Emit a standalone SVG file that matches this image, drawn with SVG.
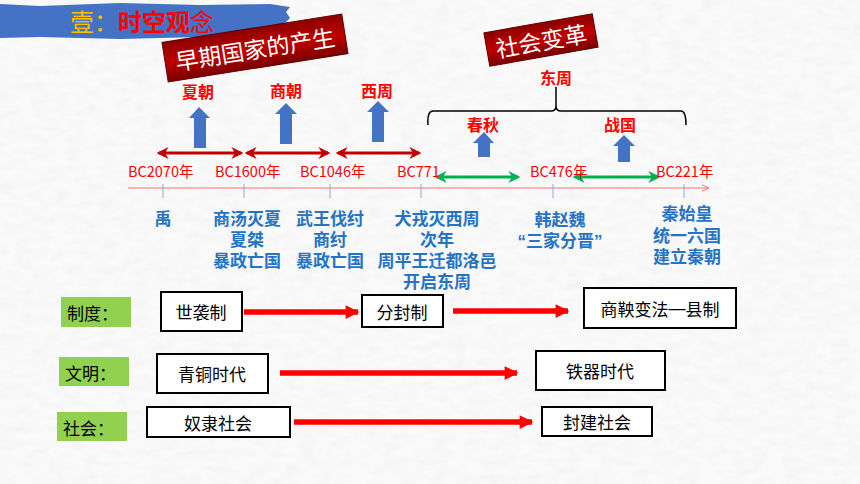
<svg xmlns="http://www.w3.org/2000/svg" width="860" height="484" viewBox="0 0 860 484">
<defs>
<style>
.cjk{font-family:"Noto Sans CJK SC","Noto Sans",sans-serif}
.per{font-family:"Noto Sans CJK SC",sans-serif;font-size:16px;font-weight:bold;fill:#FF0000;text-anchor:middle;dominant-baseline:central}
.bc{font-family:"Noto Sans CJK SC",sans-serif;font-size:14.5px;fill:#FF0000;dominant-baseline:central}
.ev{font-family:"Liberation Sans","Noto Sans CJK SC",sans-serif;font-size:17px;font-weight:bold;fill:#2473C5;text-anchor:middle;dominant-baseline:central}
.box{fill:#FFFFFF;stroke:#000;stroke-width:2}
.bt{font-family:"Noto Sans CJK SC",sans-serif;font-size:17px;fill:#000;text-anchor:middle;dominant-baseline:central}
.lab{fill:#92D050}
.lt{font-family:"Noto Sans CJK SC",sans-serif;font-size:17px;fill:#000;dominant-baseline:central}
.up{fill:#4472C4}
.dr{stroke:#C00000;stroke-width:3;fill:none}
.gr{stroke:#00B050;stroke-width:3;fill:none}
.ra{stroke:#FF0000;stroke-width:5.5;fill:none}
.tick{stroke:#8EA9DB;stroke-width:1}
</style>
<marker id="mDr" viewBox="0 0 10 10" refX="8" refY="5" markerWidth="4" markerHeight="4" orient="auto-start-reverse"><path d="M0,0 L10,5 L0,10 L3,5 Z" fill="#C00000"/></marker>
<marker id="mGr" viewBox="0 0 10 10" refX="8" refY="5" markerWidth="4" markerHeight="4" orient="auto-start-reverse"><path d="M0,0 L10,5 L0,10 L3,5 Z" fill="#00B050"/></marker>
<marker id="mRa" viewBox="0 0 10 10" refX="9" refY="5" markerWidth="3" markerHeight="2.5" orient="auto"><path d="M0,0 L10,5 L0,10 Z" fill="#FF0000"/></marker>
<marker id="mAx" viewBox="0 0 10 10" refX="9" refY="5" markerWidth="8" markerHeight="8" markerUnits="userSpaceOnUse" orient="auto"><path d="M0,1 L9,5 L0,9" fill="none" stroke="#FF7070" stroke-width="1.2"/></marker>
<linearGradient id="redg" x1="0" y1="0" x2="0" y2="1">
<stop offset="0" stop-color="#8B0000"/><stop offset="0.5" stop-color="#C00000"/><stop offset="1" stop-color="#7A0000"/>
</linearGradient>
<filter id="paper" x="0" y="0" width="100%" height="100%">
<feTurbulence type="fractalNoise" baseFrequency="0.06 0.12" numOctaves="3" seed="4" result="n"/>
<feColorMatrix in="n" type="matrix" values="0 0 0 0 0.6  0 0 0 0 0.6  0 0 0 0 0.6  0 0 0 -1.6 1.05" result="t"/>
<feComposite in="t" in2="SourceGraphic" operator="in"/>
</filter>
</defs>

<rect width="860" height="484" fill="#FAFAFA"/>
<rect width="860" height="484" fill="#FFFFFF" filter="url(#paper)" opacity="0.15"/>

<g id="title">
<path d="M0,4 L40,6 L120,3 L200,5 L270,4 L290,7 L286,12 L290,18 L284,24 L289,30 L280,34 L286,38 L200,37 L120,39 L40,37 L0,38 Z" fill="#4472C4"/>
<text x="70" y="20" class="cjk" font-size="24" fill="#FFC000" dominant-baseline="central">壹：<tspan fill="#FF0000" font-weight="bold">时空观</tspan><tspan fill="#FF0000">念</tspan></text>
</g>

<g id="banner1" transform="translate(255,48) rotate(-9)">
<rect x="-91" y="-20" width="182" height="40" fill="url(#redg)" stroke="#600000" stroke-width="1"/>
<text x="0" y="0" class="cjk" font-size="23" fill="#FFFFFF" text-anchor="middle" dominant-baseline="central">早期国家的产生</text>
</g>

<g id="banner2" transform="translate(541,40) rotate(-10)">
<rect x="-55" y="-17" width="110" height="34" fill="url(#redg)" stroke="#600000" stroke-width="1"/>
<text x="0" y="0" class="cjk" font-size="23" fill="#FFFFFF" text-anchor="middle" dominant-baseline="central">社会变革</text>
</g>

<g id="periods">
<text class="per" x="198" y="91">夏朝</text>
<text class="per" x="286" y="90">商朝</text>
<text class="per" x="377" y="90">西周</text>
<text class="per" x="556" y="77">东周</text>
<text class="per" x="483" y="124" font-size="15">春秋</text>
<text class="per" x="620" y="124" font-size="15">战国</text>
</g>

<g id="uparrows">
<path class="up" d="M199,107 L210,118 L206,118 L206,148 L194,148 L194,118 L189,118 Z"/>
<path class="up" d="M286,103 L297,114 L292,114 L292,144 L280,144 L280,114 L275,114 Z"/>
<path class="up" d="M378,101 L389,112 L384,112 L384,142 L372,142 L372,112 L367,112 Z"/>
<path class="up" d="M484,132 L494,143 L490,143 L490,157 L478,157 L478,143 L473,143 Z"/>
<path class="up" d="M624,135 L635,146 L630,146 L630,162 L618,162 L618,146 L613,146 Z"/>
</g>

<g id="connectors">
<path d="M428,125 Q427,111 433,111 L551,111 Q556,111 556,106 L556,87 M556,106 Q556,111 561,111 L681,111 Q686,111 686,125" fill="none" stroke="#000" stroke-width="1.5"/>
<line class="dr" x1="159" y1="153" x2="241" y2="153" marker-start="url(#mDr)" marker-end="url(#mDr)"/>
<line class="dr" x1="247" y1="153" x2="328" y2="153" marker-start="url(#mDr)" marker-end="url(#mDr)"/>
<line class="dr" x1="338" y1="153" x2="419" y2="153" marker-start="url(#mDr)" marker-end="url(#mDr)"/>
<line class="gr" x1="437" y1="177" x2="518" y2="177" marker-start="url(#mGr)" marker-end="url(#mGr)"/>
<line class="gr" x1="575" y1="177" x2="658" y2="177" marker-start="url(#mGr)" marker-end="url(#mGr)"/>
<line x1="128" y1="188" x2="709" y2="188" stroke="#FF7070" stroke-width="1" marker-end="url(#mAx)"/>
<line class="tick" x1="163" y1="184" x2="163" y2="198"/>
<line class="tick" x1="244" y1="184" x2="244" y2="198"/>
<line class="tick" x1="330" y1="184" x2="330" y2="198"/>
<line class="tick" x1="421" y1="184" x2="421" y2="198"/>
<line class="tick" x1="553" y1="184" x2="553" y2="198"/>
<line class="tick" x1="684" y1="184" x2="684" y2="198"/>
<line class="ra" x1="244" y1="312" x2="358" y2="312" marker-end="url(#mRa)"/>
<line class="ra" x1="453" y1="311" x2="568" y2="311" marker-end="url(#mRa)"/>
<line class="ra" x1="280" y1="373" x2="517" y2="373" marker-end="url(#mRa)"/>
<line class="ra" x1="294" y1="422" x2="532" y2="422" marker-end="url(#mRa)"/>
</g>

<g id="dates">
<text class="bc" x="128" y="170">BC2070年</text>
<text class="bc" x="215" y="170">BC1600年</text>
<text class="bc" x="300" y="170">BC1046年</text>
<text class="bc" x="397" y="170">BC771</text>
<text class="bc" x="530" y="170">BC476年</text>
<text class="bc" x="656" y="170">BC221年</text>
</g>

<g id="events">
<text class="ev" x="163" y="219">禹</text>
<text class="ev" x="247" y="219">商汤灭夏<tspan x="247" dy="21">夏桀</tspan><tspan x="247" dy="21">暴政亡国</tspan></text>
<text class="ev" x="330" y="219">武王伐纣<tspan x="330" dy="21">商纣</tspan><tspan x="330" dy="21">暴政亡国</tspan></text>
<text class="ev" x="437" y="219">犬戎灭西周<tspan x="437" dy="21">次年</tspan><tspan x="437" dy="21">周平王迁都洛邑</tspan><tspan x="437" dy="21">开启东周</tspan></text>
<text class="ev" x="560" y="220">韩赵魏<tspan x="560" dy="21">“三家分晋”</tspan></text>
<text class="ev" x="687" y="214">秦始皇<tspan x="687" dy="22">统一六国</tspan><tspan x="687" dy="21">建立秦朝</tspan></text>
</g>

<g id="label-zhidu"><rect class="lab" x="61" y="297" width="70" height="30"/><text class="lt" x="67" y="312">制度：</text></g>
<g id="label-wenming"><rect class="lab" x="59" y="357" width="70" height="29"/><text class="lt" x="65" y="372">文明：</text></g>
<g id="label-shehui"><rect class="lab" x="57" y="412" width="70" height="29"/><text class="lt" x="63" y="427">社会：</text></g>

<g id="n-shixi"><rect class="box" x="161" y="292" width="81" height="39"/><text class="bt" x="201" y="311">世袭制</text></g>
<g id="n-fenfeng"><rect class="box" x="362" y="295" width="81" height="32"/><text class="bt" x="402" y="311">分封制</text></g>
<g id="n-shangyang"><rect class="box" x="584" y="288" width="152" height="40"/><text class="bt" x="660" y="308">商鞅变法<tspan font-family="Liberation Sans">—</tspan>县制</text></g>
<g id="n-qingtong"><rect class="box" x="157" y="354" width="111" height="39"/><text class="bt" x="212" y="373">青铜时代</text></g>
<g id="n-tieqi"><rect class="box" x="536" y="351" width="129" height="39"/><text class="bt" x="600" y="370">铁器时代</text></g>
<g id="n-nuli"><rect class="box" x="147" y="407" width="143" height="30"/><text class="bt" x="218" y="422">奴隶社会</text></g>
<g id="n-fengjian"><rect class="box" x="542" y="407" width="110" height="29" stroke="#FF0000"/><text class="bt" x="597" y="421">封建社会</text></g>
</svg>
